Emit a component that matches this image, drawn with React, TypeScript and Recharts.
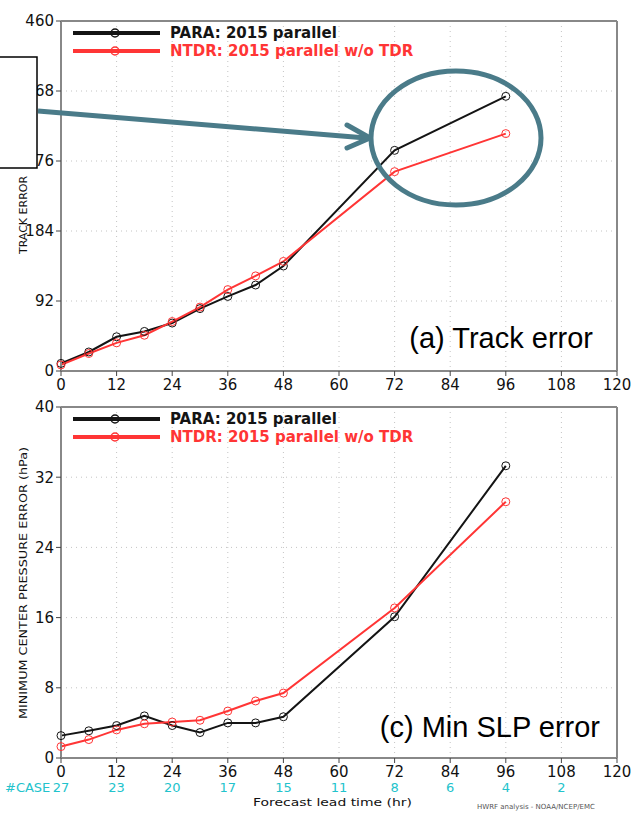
import React from "react";
import {
  LineChart,
  Line,
  XAxis,
  YAxis,
  CartesianGrid,
  ReferenceLine,
} from "recharts";

// ---- data ----
const hours = [0, 6, 12, 18, 24, 30, 36, 42, 48, 72, 96];
const trackPara = [10, 25, 45, 52, 63, 82, 98, 113, 138, 290, 361];
const trackNtdr = [8, 23, 37, 47, 65, 84, 107, 125, 144, 262, 312];
const slpPara = [2.55, 3.1, 3.7, 4.8, 3.7, 2.9, 4.0, 4.0, 4.7, 16.1, 33.3];
const slpNtdr = [1.3, 2.1, 3.2, 3.9, 4.1, 4.3, 5.35, 6.5, 7.4, 17.1, 29.2];
const xTicks = [0, 12, 24, 36, 48, 60, 72, 84, 96, 108, 120];
const caseCounts = [27, 23, 20, 17, 15, 11, 8, 6, 4, 2];
const trackTicks = [0, 92, 184, 276, 368, 460];
const slpTicks = [0, 8, 16, 24, 32, 40];
const seriesNames = ["PARA: 2015 parallel", "NTDR: 2015 parallel w/o TDR"];

const trackData = hours.map((h, i) => ({ h, para: trackPara[i], ntdr: trackNtdr[i] }));
const slpData = hours.map((h, i) => ({ h, para: slpPara[i], ntdr: slpNtdr[i] }));

const BLACK = "#141414";
const RED = "#ff3535";
const CYAN = "#22c3cc";
const TEAL = "#4a7b89";
const FONT = "DejaVu Sans";
const tickStyle = { fontSize: 15, fill: "#111", fontFamily: FONT };

const LegendBox = (props: { x: number; y: number }) => (
  <g transform={`translate(${props.x},${props.y})`}>
    {[BLACK, RED].map((c, i) => (
      <g key={i}>
        <line x1={0} x2={87} y1={i * 18} y2={i * 18} stroke={c} strokeWidth={4} />
        <circle cx={42} cy={i * 18} r={4} fill="none" stroke={c} strokeWidth={1.5} />
        <text
          x={97}
          y={5 + i * 18}
          fill={c}
          fontFamily={FONT}
          fontWeight="bold"
          fontSize={15}
        >
          {seriesNames[i]}
        </text>
      </g>
    ))}
  </g>
);

const CaseTick = (props: any) => {
  const { x, y, payload } = props;
  const idx = payload.value / 12;
  const c = caseCounts[idx];
  return (
    <g>
      <text x={x} y={y + 12} textAnchor="middle" {...tickStyle}>
        {payload.value}
      </text>
      {c !== undefined && (
        <text x={x} y={y + 27} textAnchor="middle" fontSize={13} fill={CYAN} fontFamily={FONT}>
          {c}
        </text>
      )}
    </g>
  );
};

const PlainTick = (props: any) => {
  const { x, y, payload } = props;
  return (
    <text x={x} y={y + 12} textAnchor="middle" {...tickStyle}>
      {payload.value}
    </text>
  );
};

function Panel(props: {
  data: any[];
  height: number;
  margin: any;
  domain: [number, number];
  yTicks: number[];
  xTickHeight: number;
  withCases?: boolean;
}) {
  const { data, height, margin, domain, yTicks, xTickHeight, withCases } = props;
  return (
    <LineChart width={635} height={height} data={data} margin={margin}>
      <CartesianGrid stroke="#c4c4c4" strokeDasharray="1 4" />
      <XAxis
        dataKey="h"
        type="number"
        domain={[0, 120]}
        ticks={xTicks}
        interval={0}
        height={xTickHeight}
        axisLine={{ stroke: "#888", strokeWidth: 2 }}
        tickLine={{ stroke: "#444" }}
        tickSize={5}
        tick={withCases ? <CaseTick /> : <PlainTick />}
      />
      <YAxis
        type="number"
        domain={domain}
        ticks={yTicks}
        interval={0}
        width={50}
        axisLine={{ stroke: "#888", strokeWidth: 2 }}
        tickLine={{ stroke: "#444" }}
        tickSize={5}
        tickMargin={2}
        tick={tickStyle}
      />
      <ReferenceLine x={120} stroke="#888" strokeWidth={2} />
      <ReferenceLine y={domain[1]} stroke="#888" strokeWidth={2} />
      <Line
        type="linear"
        dataKey="para"
        stroke={BLACK}
        strokeWidth={2}
        dot={{ r: 4, fill: "none", stroke: BLACK, strokeWidth: 1 }}
        isAnimationActive={false}
      />
      <Line
        type="linear"
        dataKey="ntdr"
        stroke={RED}
        strokeWidth={2}
        dot={{ r: 4, fill: "none", stroke: RED, strokeWidth: 1 }}
        isAnimationActive={false}
      />
    </LineChart>
  );
}

export default function App() {
  return (
    <div style={{ position: "absolute", left: 0, top: 0, width: 635, height: 815, background: "#fff" }}>
      <div style={{ position: "absolute", left: 0, top: 0 }}>
        <Panel
          data={trackData}
          height={400}
          margin={{ top: 21, right: 18, left: 11, bottom: 9 }}
          domain={[0, 460]}
          yTicks={trackTicks}
          xTickHeight={20}
        />
      </div>
      <div style={{ position: "absolute", left: 0, top: 380 }}>
        <Panel
          data={slpData}
          height={435}
          margin={{ top: 27, right: 18, left: 11, bottom: 17 }}
          domain={[0, 40]}
          yTicks={slpTicks}
          xTickHeight={40}
          withCases
        />
      </div>
      <svg
        width={635}
        height={815}
        style={{ position: "absolute", left: 0, top: 0, pointerEvents: "none" }}
      >
        <LegendBox x={73} y={33} />
        <LegendBox x={73} y={419} />
        <text
          transform="translate(27,215) rotate(-90)"
          textAnchor="middle"
          fontFamily={FONT}
          fontSize={11}
          fill="#111"
        >
          TRACK ERROR
        </text>
        <text
          transform="translate(27,583) rotate(-90)"
          textAnchor="middle"
          fontFamily={FONT}
          fontSize={11}
          fill="#111"
          textLength={272}
          lengthAdjust="spacingAndGlyphs"
        >
          MINIMUM CENTER PRESSURE ERROR (hPa)
        </text>
        <text x={5} y={792} fontFamily={FONT} fontSize={13} fill={CYAN}>
          #CASE
        </text>
        <text
          x={253}
          y={806}
          fontFamily={FONT}
          fontSize={11}
          fill="#111"
          textLength={159}
          lengthAdjust="spacingAndGlyphs"
        >
          Forecast lead time (hr)
        </text>
        <text x={477} y={809} fontFamily={FONT} fontSize={7} fill="#555">
          HWRF analysis - NOAA/NCEP/EMC
        </text>
        <text x={593} y={348} textAnchor="end" fontFamily="Liberation Sans" fontSize={29} fill="#000">
          (a) Track error
        </text>
        <text x={600} y={737} textAnchor="end" fontFamily="Liberation Sans" fontSize={29} fill="#000">
          (c) Min SLP error
        </text>
        <rect x={-2} y={57} width={39} height={111} fill="#fff" stroke="#000" strokeWidth={1.5} />
        <line x1={38} y1={111} x2={366} y2={138} stroke={TEAL} strokeWidth={5} />
        <polyline
          points="347,125 370,138 347,148"
          fill="none"
          stroke={TEAL}
          strokeWidth={5}
          strokeLinecap="round"
          strokeLinejoin="round"
        />
        <ellipse cx={456} cy={138} rx={85} ry={67} fill="none" stroke={TEAL} strokeWidth={5} />
      </svg>
    </div>
  );
}
